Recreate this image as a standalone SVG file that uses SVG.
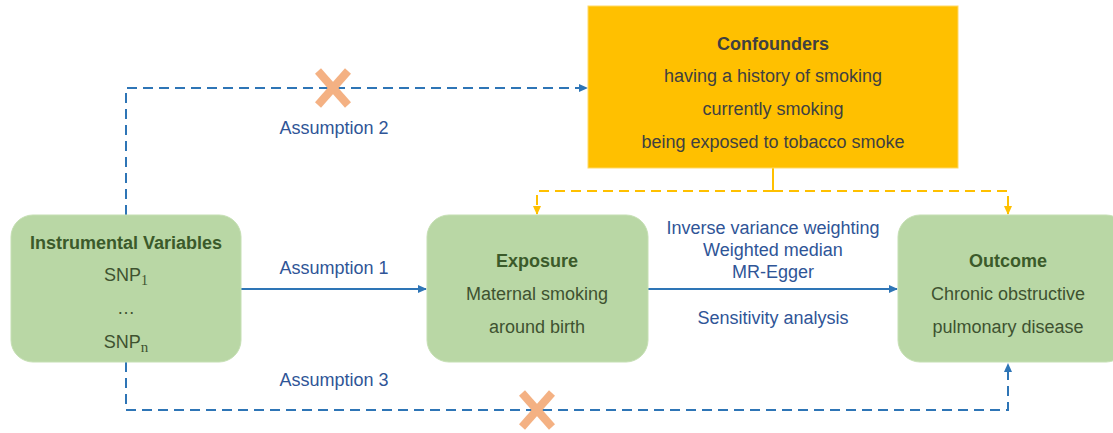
<svg xmlns="http://www.w3.org/2000/svg" width="1113" height="433" viewBox="0 0 1113 433">
<defs>
<style>
.node{fill:#B9D7A5;stroke:#C5DFB3;stroke-width:1}
.ttl{font-family:"Liberation Sans",Arial,sans-serif;font-size:18px;font-weight:bold;fill:#3B5A2A;text-anchor:middle}
.txt{font-family:"Liberation Sans",Arial,sans-serif;font-size:18px;fill:#3E5230;text-anchor:middle}
.ctxt{font-family:"Liberation Sans",Arial,sans-serif;font-size:18px;fill:#404040;text-anchor:middle}
.lbl{font-family:"Liberation Sans",Arial,sans-serif;font-size:18px;fill:#2F5597;text-anchor:middle}
.blue{stroke:#2E75B6;stroke-width:2;fill:none}
.bdash{stroke:#2E75B6;stroke-width:2;fill:none;stroke-dasharray:10 6}
.ydash{stroke:#FFC000;stroke-width:2;fill:none;stroke-dasharray:10 6}
.cross{stroke:#F4B183;stroke-width:8;stroke-linecap:butt}
</style>
<marker id="ab" markerWidth="10" markerHeight="10" refX="8" refY="5" orient="auto" markerUnits="userSpaceOnUse"><path d="M0,1 L9,5 L0,9 z" fill="#2E75B6"/></marker>
<marker id="ay" markerWidth="10" markerHeight="10" refX="8" refY="5" orient="auto" markerUnits="userSpaceOnUse"><path d="M0,1 L9,5 L0,9 z" fill="#FFC000"/></marker>
</defs>
<rect width="1113" height="433" fill="#FFFFFF"/>
<g id="connectors">
<path class="bdash" d="M126,215 V88 H587" marker-end="url(#ab)"/>
<path class="blue" d="M241,289 H426" marker-end="url(#ab)"/>
<path class="blue" d="M648,289 H897" marker-end="url(#ab)"/>
<path class="bdash" d="M126,362 V410 H1008 V364" marker-end="url(#ab)"/>
<path stroke="#FFC000" stroke-width="2" fill="none" d="M773,168 V191"/>
<path class="ydash" d="M773,191 H537 V214" marker-end="url(#ay)"/>
<path class="ydash" d="M773,191 H1008 V214" marker-end="url(#ay)"/>
<g id="cross1"><line class="cross" x1="318" y1="71" x2="348" y2="105"/><line class="cross" x1="348" y1="71" x2="318" y2="105"/></g>
<g id="cross2"><line class="cross" x1="522" y1="393" x2="552" y2="427"/><line class="cross" x1="552" y1="393" x2="522" y2="427"/></g>
<text class="lbl" x="334" y="134">Assumption 2</text>
<text class="lbl" x="334" y="274">Assumption 1</text>
<text class="lbl" x="334" y="386">Assumption 3</text>
<text class="lbl" x="773" y="234">Inverse variance weighting</text>
<text class="lbl" x="773" y="256">Weighted median</text>
<text class="lbl" x="773" y="278">MR-Egger</text>
<text class="lbl" x="773" y="324">Sensitivity analysis</text>
</g>
<g id="confounders">
<rect x="588" y="6" width="370" height="162" fill="#FFC000" stroke="#FFD966" stroke-width="1"/>
<text class="ctxt" x="773" y="50" font-weight="bold">Confounders</text>
<text class="ctxt" x="773" y="82">having a history of smoking</text>
<text class="ctxt" x="773" y="115">currently smoking</text>
<text class="ctxt" x="773" y="148">being exposed to tobacco smoke</text>
</g>
<g id="instrumental">
<rect class="node" x="11" y="215" width="230" height="147" rx="22"/>
<text class="ttl" x="126" y="249">Instrumental Variables</text>
<text class="txt" x="126" y="281">SNP<tspan font-family="Liberation Serif,serif" font-size="14" dy="4">1</tspan></text>
<text class="txt" x="126" y="314" font-size="13">…</text>
<text class="txt" x="126" y="348">SNP<tspan font-family="Liberation Serif,serif" font-size="15" dy="4">n</tspan></text>
</g>
<g id="exposure">
<rect class="node" x="427" y="215" width="221" height="147" rx="22"/>
<text class="ttl" x="537" y="267">Exposure</text>
<text class="txt" x="537" y="300">Maternal smoking</text>
<text class="txt" x="537" y="333">around birth</text>
</g>
<g id="outcome">
<rect class="node" x="898" y="215" width="230" height="147" rx="22"/>
<text class="ttl" x="1008" y="267">Outcome</text>
<text class="txt" x="1008" y="300">Chronic obstructive</text>
<text class="txt" x="1008" y="333">pulmonary disease</text>
</g>
</svg>
